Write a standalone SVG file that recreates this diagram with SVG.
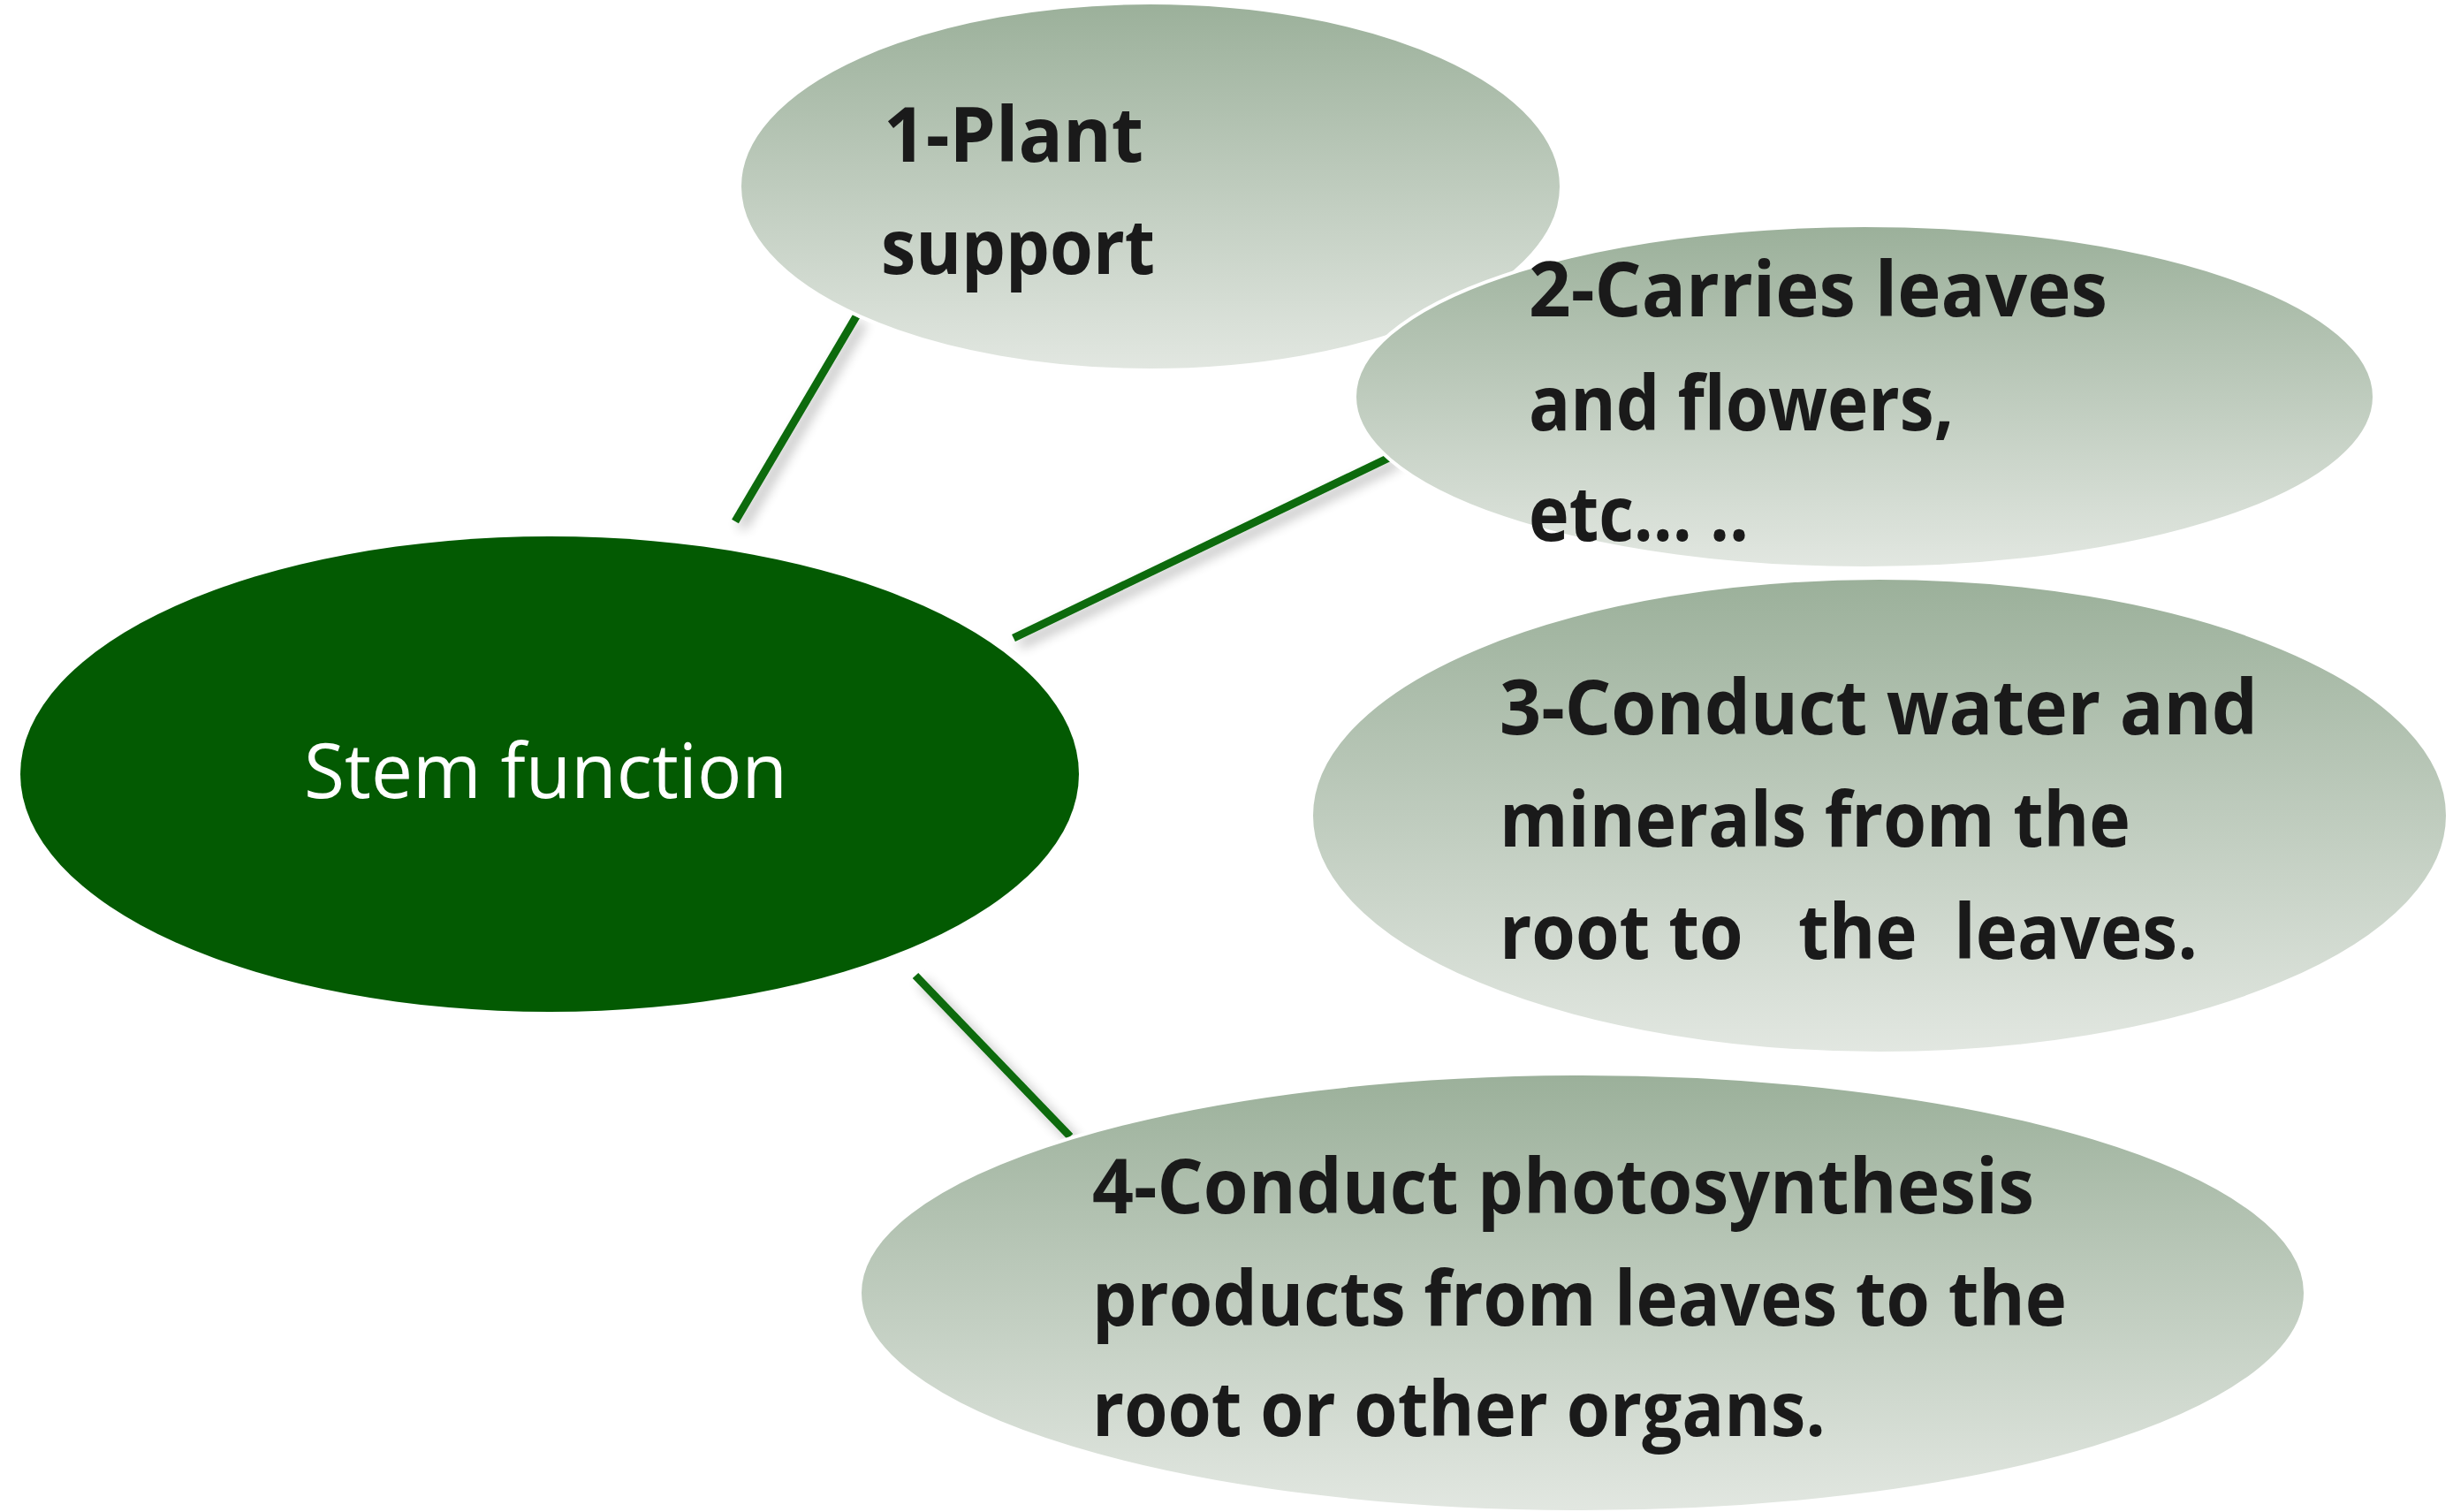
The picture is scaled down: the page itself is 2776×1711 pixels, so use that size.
<svg xmlns="http://www.w3.org/2000/svg" width="2776" height="1711" viewBox="0 0 2776 1711">
<style>
.lbl{font-family:"Open Sans","Liberation Sans",sans-serif;font-weight:700;font-size:86px;fill:#1a1a1a;white-space:pre}
.cen{font-family:"Open Sans","Liberation Sans",sans-serif;font-weight:400;font-size:86px;fill:#ffffff}
.sat{fill:url(#g);stroke:#ffffff;stroke-width:4}
.con{stroke:#086a08;stroke-width:9;fill:none;filter:url(#sh)}
</style>
<defs>
<linearGradient id="g" x1="0" y1="0" x2="0" y2="1">
<stop offset="0" stop-color="#9bb09a"/>
<stop offset="1" stop-color="#e2e7e1"/>
</linearGradient>
<filter id="sh" x="-50%" y="-50%" width="200%" height="200%">
<feGaussianBlur in="SourceAlpha" stdDeviation="7"/>
<feOffset dx="7" dy="7" result="b"/>
<feComponentTransfer><feFuncA type="linear" slope="0.3"/></feComponentTransfer>
<feMerge><feMergeNode/><feMergeNode in="SourceGraphic"/></feMerge>
</filter>
</defs>
<rect width="2776" height="1711" fill="#ffffff"/>
<g id="connectors">
<line class="con" x1="832" y1="590" x2="969" y2="358"/>
<line class="con" x1="1147" y1="722" x2="1576" y2="516"/>
<line class="con" x1="1218" y1="919" x2="1480" y2="919"/>
<line class="con" x1="1036" y1="1104" x2="1211" y2="1286"/>
</g>
<g id="node1">
<ellipse class="sat" cx="1302" cy="211" rx="465" ry="208"/>
<text class="lbl" x="1000" y="183" textLength="294" lengthAdjust="spacingAndGlyphs">1-Plant</text>
<text class="lbl" x="997" y="310" textLength="310" lengthAdjust="spacingAndGlyphs">support</text>
</g>
<g id="node2">
<ellipse class="sat" cx="2110" cy="449" rx="577" ry="194"/>
<text class="lbl" x="1730" y="358" textLength="655" lengthAdjust="spacingAndGlyphs">2-Carries leaves</text>
<text class="lbl" x="1730" y="487" textLength="481" lengthAdjust="spacingAndGlyphs">and flowers,</text>
<text class="lbl" x="1730" y="612" textLength="249" lengthAdjust="spacingAndGlyphs">etc… ..</text>
</g>
<g id="node3">
<ellipse class="sat" cx="2127" cy="923" rx="643" ry="269"/>
<text class="lbl" x="1697" y="831" textLength="858" lengthAdjust="spacingAndGlyphs">3-Conduct water and</text>
<text class="lbl" x="1697" y="958" textLength="714" lengthAdjust="spacingAndGlyphs">minerals from the</text>
<text class="lbl" x="1697" y="1085" textLength="790" lengthAdjust="spacingAndGlyphs">root to   the  leaves.</text>
</g>
<g id="node4">
<ellipse class="sat" cx="1791" cy="1463" rx="818" ry="248"/>
<text class="lbl" x="1236" y="1373" textLength="1066" lengthAdjust="spacingAndGlyphs">4-Conduct photosynthesis</text>
<text class="lbl" x="1236" y="1500" textLength="1103" lengthAdjust="spacingAndGlyphs">products from leaves to the</text>
<text class="lbl" x="1236" y="1625" textLength="830" lengthAdjust="spacingAndGlyphs">root or other organs.</text>
</g>
<g id="center">
<ellipse cx="622" cy="876" rx="599" ry="269" fill="#035a02"/>
<text class="cen" x="344" y="903" textLength="547" lengthAdjust="spacingAndGlyphs">Stem function</text>
</g>
</svg>
